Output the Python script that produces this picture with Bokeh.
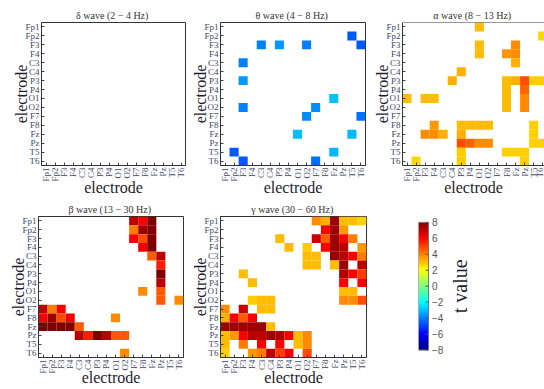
import numpy as np
from bokeh.plotting import figure
from bokeh.models import LinearColorMapper, FixedTicker, ColumnDataSource, Span
from bokeh.layouts import row, column
from bokeh.embed import file_html
from bokeh.resources import INLINE
from bokeh.core.properties import value

# ---------------- data ----------------
ELECTRODES = ["Fp1", "Fp2", "F3", "F4", "C3", "C4", "P3", "P4",
              "O1", "O2", "F7", "F8", "Fz", "Pz", "T5", "T6"]

TITLES = ["\u03b4 wave  (2 \u2212 4 Hz)", "\u03b8 wave  (4 \u2212 8 Hz)",
          "\u03b1 wave  (8 \u2212 13 Hz)", "\u03b2 wave  (13 \u2212 30 Hz)",
          "\u03b3 wave  (30 \u2212 60 Hz)"]

# significant t values, upper triangle (row index, column index, t); matrices are symmetric
DELTA_ROW = []
DELTA_COL = []
DELTA_T = []

THETA_ROW = [1, 2, 2, 2, 2, 8, 9, 10, 12]
THETA_COL = [14, 4, 6, 9, 15, 12, 10, 15, 14]
THETA_T = [-4.6, -4.0, -3.6, -4.0, -4.6, -3.0, -3.8, -4.2, -3.1]

ALPHA_ROW = [0, 1, 2, 2, 3, 3, 3, 4, 5, 6, 6, 6, 6, 6, 7, 7, 8, 8, 9, 9, 11, 12, 13, 13]
ALPHA_COL = [8, 15, 8, 12, 8, 11, 12, 12, 6, 11, 12, 13, 14, 15, 11, 13, 11, 13, 11, 13, 14, 14, 14, 15]
ALPHA_T = [3.0, 2.6, 3.0, 3.8, 3.0, 3.6, 3.8, 3.2, 3.2, 3.0, 3.2, 4.8, 2.8, 2.8,
           3.0, 4.4, 3.0, 3.8, 3.0, 3.8, 2.7, 2.7, 2.7, 2.7]

BETA_ROW = [0, 0, 0, 1, 1, 1, 2, 2, 2, 3, 3, 4, 4, 5, 6, 7, 8, 8, 9, 9]
BETA_COL = [10, 11, 12, 10, 11, 12, 10, 11, 12, 11, 12, 12, 13, 13, 13, 13, 11, 13, 13, 15]
BETA_T = [7.0, 6.0, 8.0, 4.0, 7.5, 8.0, 6.0, 4.8, 8.0, 6.2, 8.0, 4.5, 7.0, 5.5, 8.0, 7.0,
          3.8, 4.6, 4.6, 3.8]

GAMMA_ROW = [0, 0, 0, 0, 0, 0,
             1, 1, 1,
             2, 2, 2, 2, 2, 2,
             3, 3, 3, 3, 3, 3,
             4, 4, 4, 4, 4, 4,
             5, 5, 5, 5, 5,
             6, 6, 6,
             7, 7,
             8, 8,
             9, 9, 9]
GAMMA_COL = [10, 11, 12, 13, 14, 15,
             11, 12, 13,
             6, 10, 11, 12, 13, 14,
             7, 9, 11, 12, 13, 15,
             9, 10, 12, 13, 14, 15,
             9, 10, 12, 13, 15,
             13, 14, 15,
             13, 15,
             13, 14,
             13, 14, 15]
GAMMA_T = [3.8, 3.2, 7.5, 3.0, 3.0, 2.7,
           6.0, 7.5, 3.6,
           3.0, 6.8, 4.5, 7.5, 6.0, 4.0,
           3.0, 2.8, 6.0, 7.5, 7.0, 3.6,
           3.0, 3.0, 7.5, 7.0, 6.0, 4.0,
           3.0, 3.0, 3.0, 7.5, 7.0,
           7.2, 6.0, 5.0,
           6.0, 6.0,
           3.0, 3.0,
           3.8, 3.8, 4.8]

CBAR_LOW = -8
CBAR_HIGH = 8
CBAR_TICKS = [-8, -6, -4, -2, 0, 2, 4, 6, 8]
CBAR_TICK_LABELS = ["\u22128", "\u22126", "\u22124", "\u22122", "0", "2", "4", "6", "8"]
CBAR_TITLE = "t value"


# ---------------- colour map (jet) ----------------
def jet_palette(n=256):
    x = np.linspace(0, 1, n)
    r = np.clip(1.5 - np.abs(4 * x - 3), 0, 1)
    g = np.clip(1.5 - np.abs(4 * x - 2), 0, 1)
    b = np.clip(1.5 - np.abs(4 * x - 1), 0, 1)
    return ["#%02x%02x%02x" % (int(rr * 255), int(gg * 255), int(bb * 255))
            for rr, gg, bb in zip(r, g, b)]


mapper = LinearColorMapper(palette=jet_palette(), low=CBAR_LOW, high=CBAR_HIGH)

SERIF = "Liberation Serif"
TICK_COLOR = "#3e4668"
LABEL_COLOR = "#1c1c30"


def make_panel(title, rows, cols, vals, width, height, mbl, mbr, mbt, mbb,
               x_end=15.5, full_frame=True, ystand=-8, xstand=-6):
    p = figure(width=width, height=height, x_range=(-0.5, x_end), y_range=(15.5, -0.5),
               output_backend="svg", toolbar_location=None,
               min_border_left=mbl, min_border_right=mbr,
               min_border_top=mbt, min_border_bottom=mbb)
    src = ColumnDataSource(dict(x=list(cols) + list(rows),
                                y=list(rows) + list(cols),
                                t=list(vals) + list(vals)))
    p.rect(x="x", y="y", width=1, height=1, source=src,
           fill_color={"field": "t", "transform": mapper}, line_color=None)
    p.grid.visible = False
    p.title.text = title
    p.title.align = "center"
    p.title.text_font = SERIF
    p.title.text_font_size = "10px"
    p.title.text_font_style = "normal"
    p.title.text_color = "#333333"
    p.title.standoff = 3
    p.title.offset = 0
    for ax in (p.xaxis, p.yaxis):
        ax.ticker = FixedTicker(ticks=list(range(16)))
        ax.major_label_overrides = {i: n for i, n in enumerate(ELECTRODES)}
        ax.major_label_text_font = SERIF
        ax.major_label_text_font_size = "9px"
        ax.major_label_text_color = TICK_COLOR
        ax.major_label_standoff = 2
        ax.major_tick_in = 3
        ax.major_tick_out = 0
        ax.major_tick_line_color = "#444444"
        ax.minor_tick_line_color = None
        ax.axis_line_color = "#333333"
        ax.axis_label = "electrode"
        ax.axis_label_text_font = SERIF
        ax.axis_label_text_font_size = "16px"
        ax.axis_label_text_font_style = "normal"
        ax.axis_label_text_color = LABEL_COLOR
    p.yaxis.axis_label_standoff = ystand
    p.xaxis.axis_label_standoff = xstand
    p.xaxis.major_label_orientation = np.pi / 2
    if full_frame:
        p.outline_line_color = "#333333"
        p.outline_line_alpha = 1.0
    else:
        p.outline_line_color = None
        p.add_layout(Span(location=-0.5, dimension="width",
                          line_color="#333333", line_width=1))
    return p


H1 = 198
H2 = 190
p1 = make_panel(TITLES[0], DELTA_ROW, DELTA_COL, DELTA_T, 186, H1, 41, 1, 22, 32)
p2 = make_panel(TITLES[1], THETA_ROW, THETA_COL, THETA_T, 182, H1, 34, 3, 22, 32)
p3 = make_panel(TITLES[2], ALPHA_ROW, ALPHA_COL, ALPHA_T, 176, H1, 34, 0, 22, 32,
                x_end=15.2, full_frame=False)
p4 = make_panel(TITLES[3], BETA_ROW, BETA_COL, BETA_T, 186, H2, 38, 3, 18, 30,
                xstand=-8)
p5 = make_panel(TITLES[4], GAMMA_ROW, GAMMA_COL, GAMMA_T, 184, H2, 34, 4, 18, 30,
                xstand=-8)

# ---------------- colour bar panel ----------------
# frame: 126 x 190 px; 10 px per x unit, bar spans 172 px for the 16 t units
BAR_PX_PER_T = 172 / (CBAR_HIGH - CBAR_LOW)
y_top = CBAR_HIGH + 8 / BAR_PX_PER_T
y_bot = CBAR_LOW - 10 / BAR_PX_PER_T
p6 = figure(width=174, height=H2, x_range=(0, 12.6), y_range=(y_bot, y_top),
            output_backend="svg", toolbar_location=None,
            x_axis_location=None, y_axis_location=None,
            min_border_left=48, min_border_right=0,
            min_border_top=0, min_border_bottom=0)
p6.grid.visible = False
p6.outline_line_color = None
p6.image(image=[np.linspace(CBAR_LOW, CBAR_HIGH, 256).reshape(-1, 1)],
         x=0, y=CBAR_LOW, dw=1, dh=CBAR_HIGH - CBAR_LOW, color_mapper=mapper)
p6.quad(left=0, right=1, bottom=CBAR_LOW, top=CBAR_HIGH, fill_color=None,
        line_color="#777777", line_width=1)
p6.segment(x0=[0.7] * len(CBAR_TICKS), x1=[1.0] * len(CBAR_TICKS),
           y0=CBAR_TICKS, y1=CBAR_TICKS, line_color="#555555", line_width=1)
p6.text(x=[1.35] * len(CBAR_TICKS), y=CBAR_TICKS, text=CBAR_TICK_LABELS,
        text_font=value("Liberation Sans"), text_font_size="10px",
        text_color="#555555", text_align="left", text_baseline="middle")
p6.text(x=[4.1], y=[0], text=[CBAR_TITLE], angle=np.pi / 2,
        text_font=value(SERIF), text_font_size="20px", text_color=LABEL_COLOR,
        text_align="center", text_baseline="middle")

layout = column(row(p1, p2, p3), row(p4, p5, p6))

open("out.html", "w").write(file_html(layout, INLINE))
